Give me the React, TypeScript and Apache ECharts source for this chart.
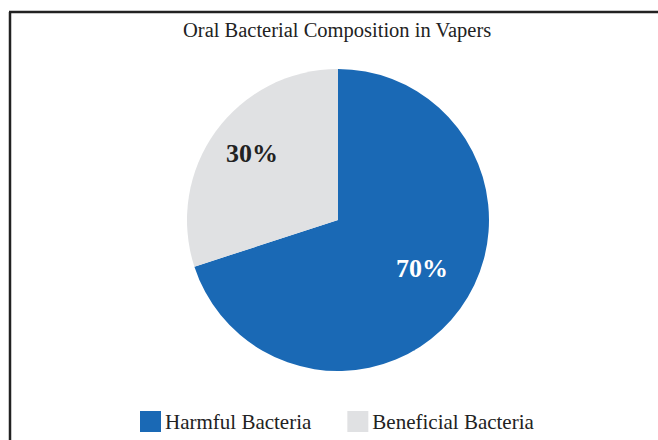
import React, { useEffect, useRef } from "react";
import * as echarts from "echarts";

const titleText = "Oral Bacterial Composition in Vapers";
const categories = ["Harmful Bacteria", "Beneficial Bacteria"];
const values = [70, 30];
const colors = ["#1a69b5", "#e0e1e3"];
const labelColors = ["#ffffff", "#222222"];
const labelSpots = [
  [422, 268],
  [252, 153],
];

export default function App() {
  const ref = useRef<HTMLDivElement>(null);
  useEffect(() => {
    if (!ref.current) return;
    const chart = echarts.init(ref.current, undefined, { renderer: "svg" });
    const serif = "'Liberation Serif', 'Times New Roman', serif";
    chart.setOption({
      animation: false,
      backgroundColor: "#ffffff",
      title: {
        text: titleText,
        left: 178,
        top: 14,
        textStyle: { fontFamily: serif, fontSize: 20.5, fontWeight: "normal", color: "#222" },
      },
      legend: {
        bottom: 3,
        left: 135,
        itemWidth: 21,
        itemHeight: 21,
        itemGap: 36,
        icon: "rect",
        textStyle: { fontFamily: serif, fontSize: 21, color: "#222", padding: [0, 0, 0, -1] },
        data: categories,
      },
      graphic: [
        { type: "line", shape: { x1: 10, y1: 12, x2: 10, y2: 440 }, style: { stroke: "#222", lineWidth: 2.5 } },
        { type: "line", shape: { x1: 9, y1: 12, x2: 658, y2: 12 }, style: { stroke: "#222", lineWidth: 2.5 } },
      ],
      series: [
        {
          type: "pie",
          center: [338, 220],
          radius: 151,
          startAngle: 90,
          clockwise: true,
          itemStyle: { borderWidth: 0 },
          label: {
            show: true,
            position: "inside",
            formatter: "{c}%",
            fontFamily: serif,
            fontSize: 26,
            fontWeight: "bold",
          },
          labelLayout: (p: any) => ({
            x: labelSpots[p.dataIndex][0],
            y: labelSpots[p.dataIndex][1],
            align: "center",
            verticalAlign: "middle",
          }),
          data: categories.map((c, i) => ({
            name: c,
            value: values[i],
            itemStyle: { color: colors[i] },
            label: { color: labelColors[i] },
          })),
        },
      ],
    });
    return () => chart.dispose();
  }, []);
  return <div ref={ref} style={{ position: "fixed", left: 0, top: 0, width: 658, height: 440 }} />;
}
